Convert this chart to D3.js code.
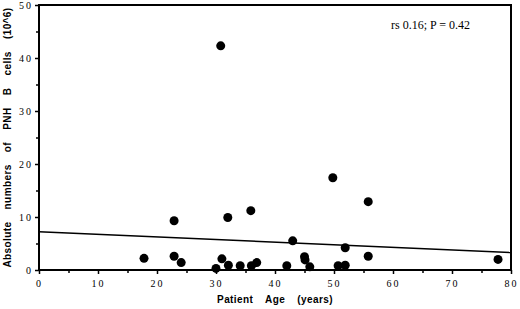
<!DOCTYPE html>
<html>
<head>
<meta charset="utf-8">
<script src="https://cdn.jsdelivr.net/npm/d3@7"></script>
<style>
  html, body { margin: 0; padding: 0; background: #fff; }
  .tick text { font-family: "Liberation Serif", "Times New Roman", serif; font-size: 10px; letter-spacing: 2px; }
  .title { font-family: "Liberation Sans", Arial, sans-serif; font-weight: bold; font-size: 10px; word-spacing: 9px; letter-spacing: 0.4px; }
</style>
</head>
<body>
<div id="main"></div>
<script>
// data
const patientAge = [17.8, 22.9, 22.9, 24.1, 30.0, 30.8, 31.0, 32.0, 32.1, 34.1, 36.0, 36.9, 35.9,
  42.0, 43.0, 45.0, 45.1, 45.9, 49.8, 50.7, 51.9, 51.9, 55.8, 55.8, 77.8];
const pnhBCells = [2.2, 9.3, 2.6, 1.4, 0.3, 42.3, 2.1, 9.9, 0.9, 0.8, 0.8, 1.4, 11.2,
  0.8, 5.5, 2.5, 1.9, 0.6, 17.4, 0.8, 0.9, 4.2, 12.9, 2.6, 2.0];
const fitLine = [[0, 7.2], [80, 3.3]];
const xTicks = [0, 10, 20, 30, 40, 50, 60, 70, 80];
const yTicks = [0, 10, 20, 30, 40, 50];
const minorStep = 5;

!(function () {
  'use strict';

  let svg, xScale, yScale;

  const canvas = {
    context: '#main',
    width: 520,
    height: 309,
    padding: { top: 5, right: 9, bottom: 39, left: 39 }
  };

  function setCanvas() {
    svg = d3.select(canvas.context)
      .append('svg')
      .attr('width', canvas.width)
      .attr('height', canvas.height);
  }

  function setScales() {
    xScale = d3.scaleLinear()
      .domain([0, 80])
      .range([canvas.padding.left, canvas.width - canvas.padding.right]);
    yScale = d3.scaleLinear()
      .domain([0, 50])
      .range([canvas.height - canvas.padding.bottom, canvas.padding.top]);
  }

  function styleAxis(g) {
    g.select('.domain').remove();
    g.selectAll('.tick line').attr('stroke', '#000').attr('stroke-width', 1.5);
    g.selectAll('.tick text').attr('fill', '#000');
  }

  function setAxes() {
    const bottom = canvas.height - canvas.padding.bottom;
    const minorX = d3.range(5, 80, minorStep * 2);
    const minorY = d3.range(5, 50, minorStep * 2);

    svg.append('g')
      .attr('transform', 'translate(0,' + bottom + ')')
      .call(d3.axisBottom(xScale).tickValues(xTicks).tickSize(4).tickPadding(6))
      .call(styleAxis);
    svg.append('g')
      .attr('transform', 'translate(0,' + bottom + ')')
      .call(d3.axisBottom(xScale).tickValues(minorX).tickSize(3).tickFormat(''))
      .call(styleAxis);

    svg.append('g')
      .attr('transform', 'translate(' + canvas.padding.left + ',0)')
      .call(d3.axisLeft(yScale).tickValues(yTicks).tickSize(4).tickPadding(2))
      .call(styleAxis);
    svg.append('g')
      .attr('transform', 'translate(' + canvas.padding.left + ',0)')
      .call(d3.axisLeft(yScale).tickValues(minorY).tickSize(3).tickFormat(''))
      .call(styleAxis);

    // frame
    svg.append('rect')
      .attr('x', xScale(0))
      .attr('y', yScale(50))
      .attr('width', xScale(80) - xScale(0))
      .attr('height', yScale(0) - yScale(50))
      .attr('fill', 'none')
      .attr('stroke', '#000')
      .attr('stroke-width', 2);
  }

  function setMarks() {
    const line = d3.line()
      .x(d => xScale(d[0]))
      .y(d => yScale(d[1]));

    svg.append('path')
      .datum(fitLine)
      .attr('d', line)
      .attr('fill', 'none')
      .attr('stroke', '#000')
      .attr('stroke-width', 1.5);

    svg.append('g')
      .selectAll('circle')
      .data(patientAge)
      .join('circle')
      .attr('cx', d => xScale(d))
      .attr('cy', (d, i) => yScale(pnhBCells[i]))
      .attr('r', 4.5)
      .attr('fill', '#000');
  }

  function setLabels() {
    svg.append('text')
      .attr('class', 'title')
      .attr('x', (xScale(0) + xScale(80)) / 2)
      .attr('y', 303)
      .attr('text-anchor', 'middle')
      .text('Patient Age (years)');

    svg.append('text')
      .attr('class', 'title')
      .attr('transform', 'translate(11,' + ((yScale(0) + yScale(50)) / 2) + ') rotate(-90)')
      .attr('text-anchor', 'middle')
      .text('Absolute numbers of PNH B cells (10^6)');

    svg.append('text')
      .attr('x', 391)
      .attr('y', 29)
      .style('font-family', '"Liberation Serif", "Times New Roman", serif')
      .style('font-size', '12px')
      .text('rs 0.16; P = 0.42');
  }

  setCanvas();
  setScales();
  setAxes();
  setMarks();
  setLabels();
}());
</script>
</body>
</html>
